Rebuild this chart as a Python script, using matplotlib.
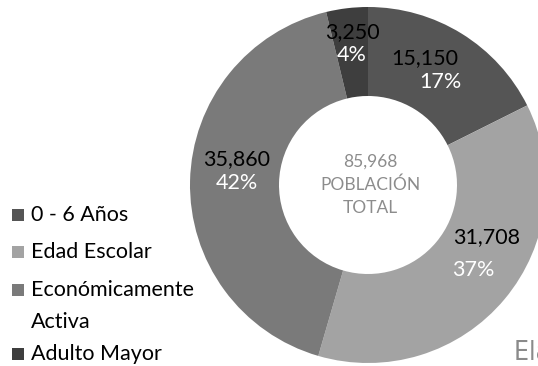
import matplotlib
matplotlib.use("Agg")
from matplotlib import pyplot as plt

plt.rcParams['font.family'] = ['Lato', 'DejaVu Sans']

# Población por grupo de edad
categories = ['0 - 6 Años', 'Edad Escolar', 'Económicamente\nActiva', 'Adulto Mayor']
values = [15150, 31708, 35860, 3250]
percents = [17, 37, 42, 4]   # as printed on the chart
colors = ['#555555', '#a3a3a3', '#7a7a7a', '#3e3e3e']
total = sum(values)

W, H = 538, 366
fig = plt.figure(figsize=(W / 100, H / 100), dpi=100)
ax = fig.add_axes([0, 0, 1, 1])

cx, cy = 368, H - 185   # centre of the donut (pixel coords)
R = 178
ax.pie(values, colors=colors, startangle=90, counterclock=False,
       center=(cx, cy), radius=R, frame=True,
       wedgeprops=dict(width=R - 89, edgecolor='none'))
ax.set_xlim(0, W)
ax.set_ylim(0, H)
ax.set_aspect('equal')
ax.axis('off')

# value / percent labels (x, y in pixels from top-left)
label_pos = [((425, 58), (440, 82)),
             ((487, 237), (473, 270)),
             ((237, 159), (237, 183)),
             ((352, 32), (352, 55))]
for v, p, ((x1, y1), (x2, y2)) in zip(values, percents, label_pos):
    ax.text(x1, H - y1, f'{v:,}', ha='center', va='center', fontsize=15.5, color='black')
    ax.text(x2, H - y2, f'{p}%', ha='center', va='center', fontsize=15.5, color='white')

# centre text
for txt, y in zip([f'{total:,}', 'POBLACIÓN', 'TOTAL'], [162, 185, 208]):
    ax.text(370, H - y, txt, ha='center', va='center', fontsize=12.5, color='#8c8c8c')

# legend drawn by hand
leg_y = [215, 252, 290, 354]
for cat, col, y in zip(categories, colors, leg_y):
    ax.scatter([18], [H - y], marker='s', s=70, color=col, edgecolors='none')
    lines = cat.split('\n')
    ax.text(31, H - y, lines[0], ha='left', va='center', fontsize=15.5, color='black')
    if len(lines) > 1:
        ax.text(31, H - y - 32, lines[1], ha='left', va='center', fontsize=15.5, color='black')

# source note, cut off by the right edge as in the original
ax.text(514, H - 352, 'Elaboración propia', ha='left', va='center', fontsize=19,
        color='#8a8a8a', family='DejaVu Sans', fontstretch='condensed', fontweight='light')

fig.savefig('out.png', dpi=100)
